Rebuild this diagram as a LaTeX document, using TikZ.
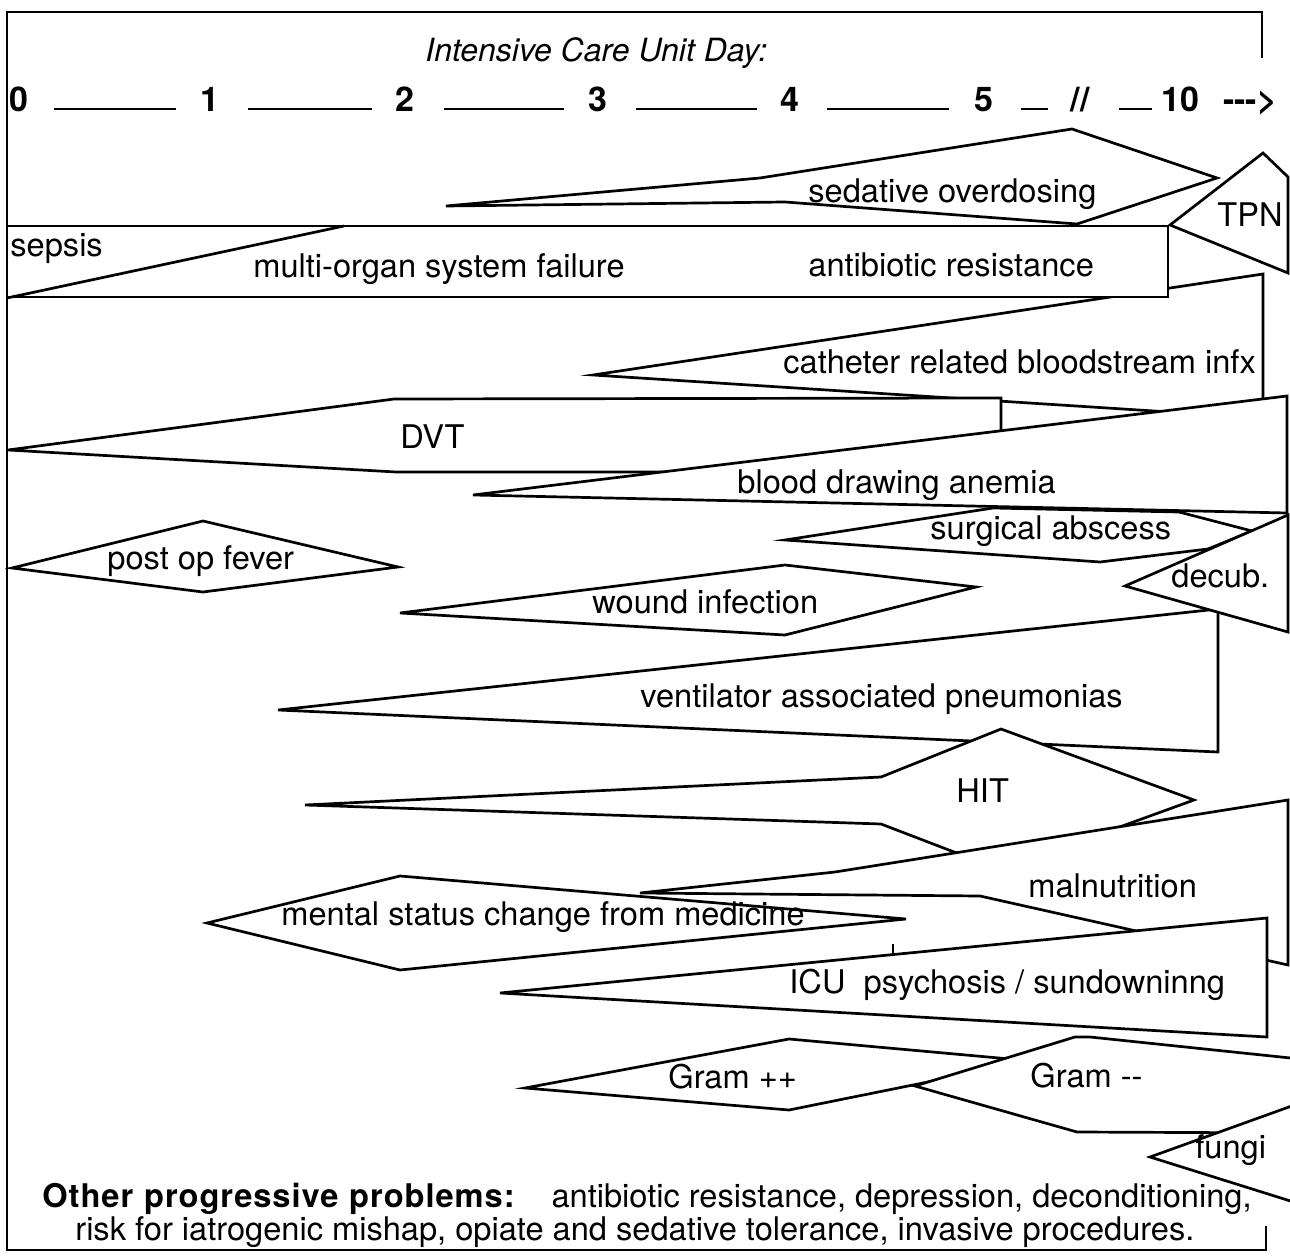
\documentclass[tikz,border=0pt]{standalone}
\usepackage{fontspec}
\setmainfont{TeX Gyre Heros}
\begin{document}
\begin{tikzpicture}[x=0.5pt,y=-0.5pt,
  shp/.style={draw=black,line width=1.35pt,fill=white},
  lbl/.style={anchor=base west,inner sep=0pt,font=\fontsize{16.3}{19}\selectfont},
  axl/.style={anchor=base,inner sep=0pt,font=\fontsize{17}{20}\selectfont\bfseries},
  dashln/.style={line width=1.2pt},
  frm/.style={line width=1.2pt}]
\useasboundingbox (0,0) rectangle (1290,1256);
\clip (0,0) rectangle (1290,1256);

% frame
\draw[frm] (1262,58) -- (1262,12) -- (7,12) -- (7,1250) -- (1266,1250) -- (1266,1226);

% header
\node[lbl,font=\fontsize{16}{19}\selectfont\itshape] (hdr) at (425,62) {Intensive Care Unit Day:};
\node[axl] (d0) at (19,112) {0};
\node[axl] (d1) at (210,112) {1};
\node[axl] (d2) at (405,112) {2};
\node[axl] (d3) at (598,112) {3};
\node[axl] (d4) at (790,112) {4};
\node[axl] (d5) at (984,112) {5};
\node[axl] (brk) at (1080,112) {//};
\node[axl] (d10) at (1180,112) {10};
\node[axl] (arr) at (1250,112) {-{}-{}->};
\draw[dashln] (54,109) -- (176,109);
\draw[dashln] (248,109) -- (372,109);
\draw[dashln] (444,109) -- (564,109);
\draw[dashln] (636,109) -- (757,109);
\draw[dashln] (827,109) -- (949,109);
\draw[dashln] (1021,109) -- (1048,109);
\draw[dashln] (1119,109) -- (1152,109);

% shapes, back to front
\draw[shp] (446,206) -- (760,178) -- (1072,129) -- (1217,178) -- (1077,224) -- (785,202) -- cycle; % sedative
\draw[shp] (593,375) -- (1263,274) -- (1263,418) -- cycle; % catheter
\draw[shp] (7,226) rectangle (1168,297); % sepsis / MOSF / resistance
\draw[shp,fill=none] (7,298) -- (344,226);
\draw[shp] (1170,225) -- (1263,153) -- (1288,177) -- (1288,273) -- cycle; % TPN
\draw[shp] (8,450) -- (394,399) -- (1001,398) -- (1001,472) -- (396,472) -- cycle; % DVT
\draw[shp] (473,495) -- (1287,396) -- (1287,513) -- cycle; % blood drawing
\draw[shp] (785,540) -- (993,508) -- (1179,512) -- (1252,531) -- (1208,549) -- (1100,562) -- cycle; % abscess
\draw[shp] (12,568) -- (203,521) -- (398,567) -- (203,592) -- cycle; % post op fever
\draw[shp] (400,613) -- (785,565) -- (976,587) -- (785,635) -- cycle; % wound
\draw[shp] (278,710) -- (1218,609) -- (1218,752) -- cycle; % ventilator
\draw[shp] (1125,586) -- (1288,515) -- (1288,632) -- cycle; % decub
\draw[shp] (305,805) -- (881,777) -- (1001,729) -- (1194,800) -- (1001,870) -- (881,824) -- cycle; % HIT
\draw[shp] (207,923) -- (400,876) -- (906,919) -- (400,970) -- cycle; % mental status
\draw[shp] (640,893) -- (835,872) -- (1288,800) -- (1288,965) -- (980,896) -- cycle; % malnutrition
\draw[shp] (500,993) -- (1267,918) -- (1267,1037) -- cycle; % ICU psychosis
\draw[shp,fill=none] (893,944) -- (893,956);
\draw[shp] (525,1088) -- (789,1039) -- (1032,1061) -- (789,1110) -- cycle; % Gram +
\draw[shp] (915,1086) -- (1075,1037) -- (1090,1037) -- (1300,1059) -- (1300,1133) -- (1077,1132) -- cycle; % Gram -
\draw[shp] (1150,1157) -- (1300,1103) -- (1300,1204) -- cycle; % fungi

% labels
\node[lbl] (sed) at (808,203) {sedative overdosing};
\node[lbl] (tpn) at (1217,227) {TPN};
\node[lbl] (sep) at (10,257) {sepsis};
\node[lbl] (mosf) at (253,278) {multi-organ system failure};
\node[lbl] (abr) at (808,277) {antibiotic resistance};
\node[lbl] (cat) at (783,374) {catheter related bloodstream infx};
\node[lbl] (dvt) at (400,449) {DVT};
\node[lbl] (bld) at (737,494) {blood drawing anemia};
\node[lbl] (abs) at (930,540) {surgical abscess};
\node[lbl] (pof) at (107,569) {post op fever};
\node[lbl] (wnd) at (592,613) {wound infection};
\node[lbl] (dec) at (1171,588) {decub.};
\node[lbl] (vap) at (640,707) {ventilator associated pneumonias};
\node[lbl] (hit) at (956,802) {HIT};
\node[lbl] (mal) at (1028,897) {malnutrition};
\node[lbl] (msc) at (281,925) {mental status change from medicine};
\node[lbl] (icu) at (789,993) {ICU\ \ psychosis / sundowninng};
\node[lbl] (gp) at (668,1088) {Gram ++};
\node[lbl] (gm) at (1030,1087) {Gram -{}-};
\node[lbl] (fun) at (1195,1158) {fungi};
\node[lbl,font=\fontsize{16.3}{19}\selectfont\bfseries,text width=480pt] (oth) at (42,1207) {\addfontfeature{LetterSpace=3}Other progressive problems:};
\node[lbl,anchor=base east] (oth2) at (1252,1207) {antibiotic resistance, depression, deconditioning,};
\node[lbl] (oth3) at (75,1240) {risk for iatrogenic mishap, opiate and sedative tolerance, invasive procedures.};
\end{tikzpicture}
\end{document}
